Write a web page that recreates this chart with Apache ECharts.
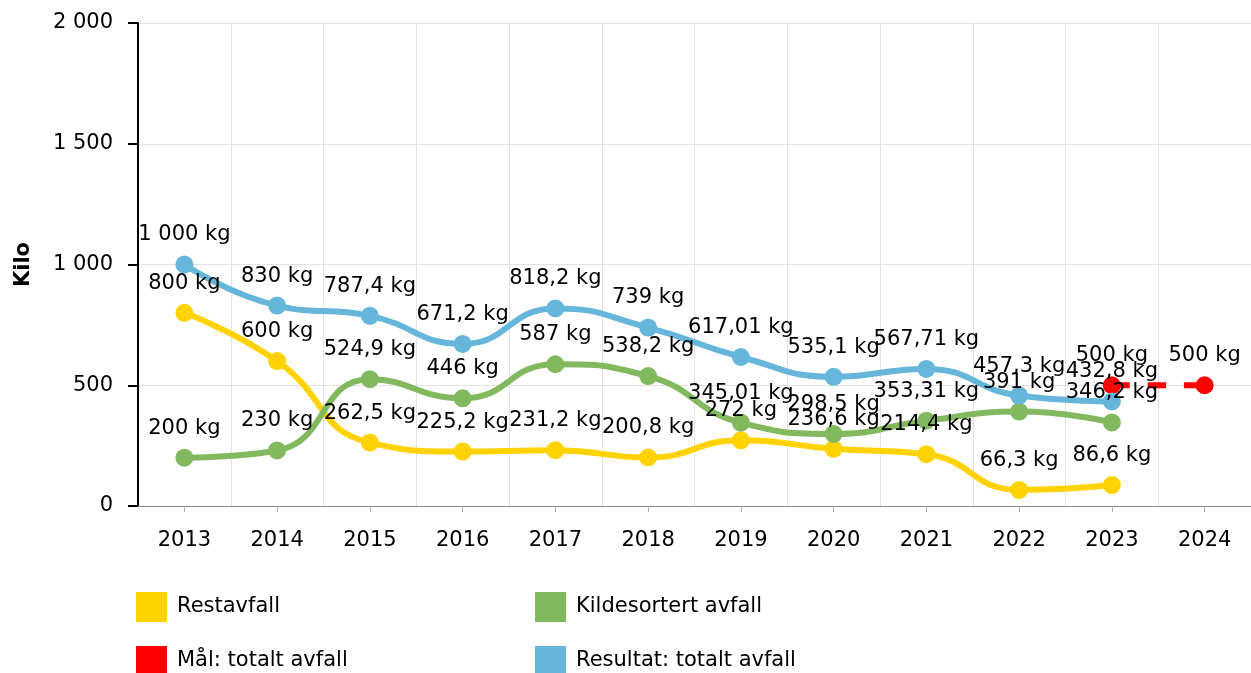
<!DOCTYPE html>
<html>
<head>
<meta charset="utf-8">
<script src="https://cdn.jsdelivr.net/npm/echarts@6/dist/echarts.min.js"></script>
<style>
  html, body { margin: 0; padding: 0; background: #fff; }
  #chart { width: 1251px; height: 673px; }
</style>
</head>
<body>
<div id="chart"></div>
<script>
var years = ['2013', '2014', '2015', '2016', '2017', '2018', '2019', '2020', '2021', '2022', '2023', '2024']
var restavfall = [800, 600, 262.5, 225.2, 231.2, 200.8, 272, 236.6, 214.4, 66.3, 86.6, null]
var kildesortert = [200, 230, 524.9, 446, 587, 538.2, 345.01, 298.5, 353.31, 391, 346.2, null]
var maal = [null, null, null, null, null, null, null, null, null, null, 500, 500]
var resultat = [1000, 830, 787.4, 671.2, 818.2, 739, 617.01, 535.1, 567.71, 457.3, 432.8, null]

var font = 'Verdana, "DejaVu Sans", sans-serif'
var fs = 21

// 1000 -> "1 000", 787.4 -> "787,4"
function fmtNum(v) {
  var parts = String(v).split('.')
  parts[0] = parts[0].replace(/\B(?=(\d{3})+(?!\d))/g, ' ')
  return parts.join(',')
}

function lineSeries(name, data, color, dashed) {
  return {
    name: name,
    type: 'line',
    data: data,
    smooth: 0.5,
    symbol: 'circle',
    symbolSize: 18,
    connectNulls: false,
    itemStyle: { color: color },
    lineStyle: { color: color, width: 6, type: dashed ? [18, 18] : 'solid' },
    label: {
      show: true,
      position: 'top',
      distance: 10,
      color: '#000',
      fontFamily: font,
      fontSize: fs,
      formatter: function(p) {
        return fmtNum(p.value) + ' kg'
      }
    },
    emphasis: { disabled: true }
  }
}

function legendItem(name, left, top) {
  return {
    left: left,
    top: top,
    padding: 0,
    itemWidth: 31,
    itemHeight: 30,
    icon: 'rect',
    textStyle: { fontSize: fs, color: '#000', fontFamily: font, padding: [0, 0, 0, 5] },
    data: [name]
  }
}

var chart = echarts.init(document.getElementById('chart'))
chart.setOption({
  animation: false,
  textStyle: { fontFamily: font },
  grid: { left: 138, right: 0, top: 23, bottom: 167, containLabel: false },
  legend: [
    legendItem('Restavfall', 136, 592),
    legendItem('Kildesortert avfall', 535, 592),
    legendItem('Mål: totalt avfall', 136, 646),
    legendItem('Resultat: totalt avfall', 535, 646)
  ],
  xAxis: {
    type: 'category',
    data: years,
    boundaryGap: true,
    axisLine: { lineStyle: { color: '#888', width: 1 } },
    axisTick: { show: true, alignWithLabel: true, length: 6, lineStyle: { color: '#aaa' } },
    axisLabel: { color: '#000', fontSize: fs, margin: 24 },
    splitLine: { show: true, lineStyle: { color: '#e3e3e3' } }
  },
  yAxis: {
    type: 'value',
    min: 0,
    max: 2000,
    interval: 500,
    name: 'Kilo',
    nameLocation: 'middle',
    nameGap: 104,
    nameRotate: 90,
    nameTextStyle: { fontSize: fs, fontWeight: 'bold', color: '#000' },
    axisLine: { show: true, lineStyle: { color: '#000', width: 2 } },
    axisTick: { show: true, length: 10, lineStyle: { color: '#000', width: 2 } },
    axisLabel: {
      color: '#000',
      fontSize: fs,
      margin: 25,
      formatter: function(v) { return fmtNum(v) }
    },
    splitLine: { show: true, lineStyle: { color: '#e3e3e3' } }
  },
  series: [
    lineSeries('Restavfall', restavfall, '#FFD200'),
    lineSeries('Kildesortert avfall', kildesortert, '#82B95F'),
    lineSeries('Mål: totalt avfall', maal, '#FF0000', true),
    lineSeries('Resultat: totalt avfall', resultat, '#66B6DC')
  ]
})
</script>
</body>
</html>
